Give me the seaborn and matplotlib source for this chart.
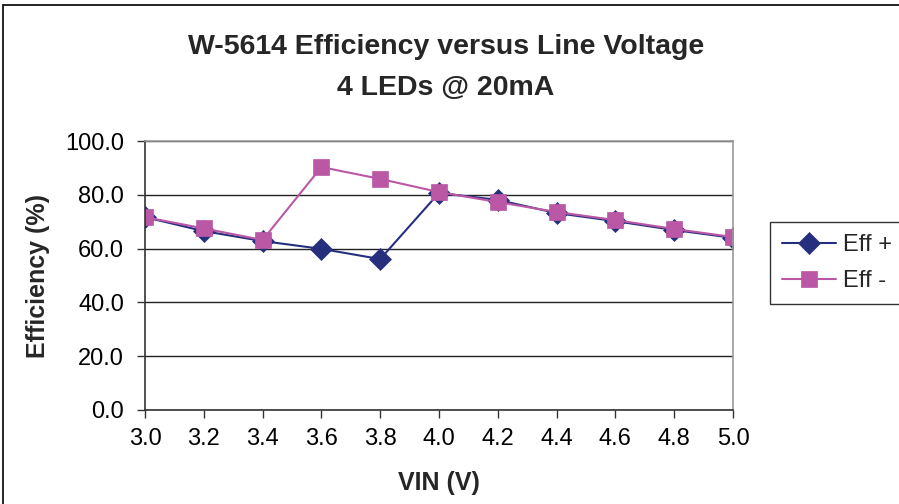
import matplotlib
matplotlib.use("Agg")
import matplotlib.pyplot as plt
import seaborn as sns
import pandas as pd
from matplotlib.patches import Rectangle

vin = [3.0, 3.2, 3.4, 3.6, 3.8, 4.0, 4.2, 4.4, 4.6, 4.8, 5.0]
eff_plus = [71.7, 66.5, 62.8, 59.9, 56.1, 80.7, 78.1, 73.2, 70.2, 66.9, 64.0]
eff_minus = [71.7, 67.5, 63.2, 90.3, 85.9, 81.0, 77.3, 73.6, 70.6, 67.3, 64.3]
series_names = ["Eff +", "Eff -"]
y_ticks = [0.0, 20.0, 40.0, 60.0, 80.0, 100.0]
title = "W-5614 Efficiency versus Line Voltage\n4 LEDs @ 20mA"

df = pd.DataFrame({
    "VIN": vin * 2,
    "Eff": eff_plus + eff_minus,
    "Series": [series_names[0]] * len(vin) + [series_names[1]] * len(vin),
})

sns.set_theme(style="white")
plt.rcParams["font.family"] = ["Liberation Sans", "DejaVu Sans"]

W, H = 899, 504
fig = plt.figure(figsize=(W / 100, H / 100), dpi=100)
ax = fig.add_axes([145 / W, 1 - 410 / H, (733 - 145) / W, (410 - 141) / H])

colors = {"Eff +": "#262F7E", "Eff -": "#BA58A6"}
markers = {"Eff +": "D", "Eff -": "s"}
sizes = {"Eff +": 11, "Eff -": 12}
for name in series_names:
    sub = df[df["Series"] == name]
    sns.lineplot(data=sub, x="VIN", y="Eff", ax=ax, color=colors[name],
                 marker=markers[name], markersize=sizes[name],
                 markeredgecolor=colors[name], markeredgewidth=0.5,
                 linewidth=1.5, label=name, legend=False)

ax.set_xlim(3.0, 5.0)
ax.set_ylim(0, 100)
ax.set_xticks(vin)
ax.set_xticklabels([f"{v:.1f}" for v in vin], fontsize=17)
ax.set_yticks(y_ticks)
ax.set_yticklabels([f"{v:.1f}" for v in y_ticks], fontsize=17)
ax.yaxis.grid(True, color="#222222", linewidth=1.0)
ax.set_axisbelow(True)
ax.tick_params(axis="x", direction="out", length=6, width=1, color="#333333",
               bottom=True, pad=7, labelcolor="black")
ax.tick_params(axis="y", direction="out", length=6, width=1, color="#333333",
               left=True, pad=9, labelcolor="black")
for s in ["left", "bottom"]:
    ax.spines[s].set_color("#333333")
    ax.spines[s].set_linewidth(1.2)
for s in ["top", "right"]:
    ax.spines[s].set_color("#999999")
    ax.spines[s].set_linewidth(1.2)

ax.set_xlabel("VIN (V)", fontsize=18, fontweight="bold", labelpad=15)
ax.set_ylabel("Efficiency (%)", fontsize=18, fontweight="bold", labelpad=11)

fig.text(446 / W, 1 - 67.5 / H, title, ha="center", va="center",
         fontsize=20.5, fontweight="bold", linespacing=1.75)

handles, labels = ax.get_legend_handles_labels()
leg = fig.legend(handles, labels, loc="upper left",
                 bbox_to_anchor=(770 / W, 1 - 222 / H), fontsize=17,
                 frameon=True, fancybox=False, edgecolor="black",
                 handlelength=2.3, labelspacing=0.6, borderpad=0.5,
                 handletextpad=0.3, borderaxespad=0)
leg.get_frame().set_linewidth(1.0)

fig.patches.append(Rectangle((3 / W, -0.05), 1.1, 1 - 5 / H + 0.05,
                             transform=fig.transFigure, fill=False,
                             edgecolor="black", linewidth=1.2))

fig.savefig("out.png", dpi=100)
